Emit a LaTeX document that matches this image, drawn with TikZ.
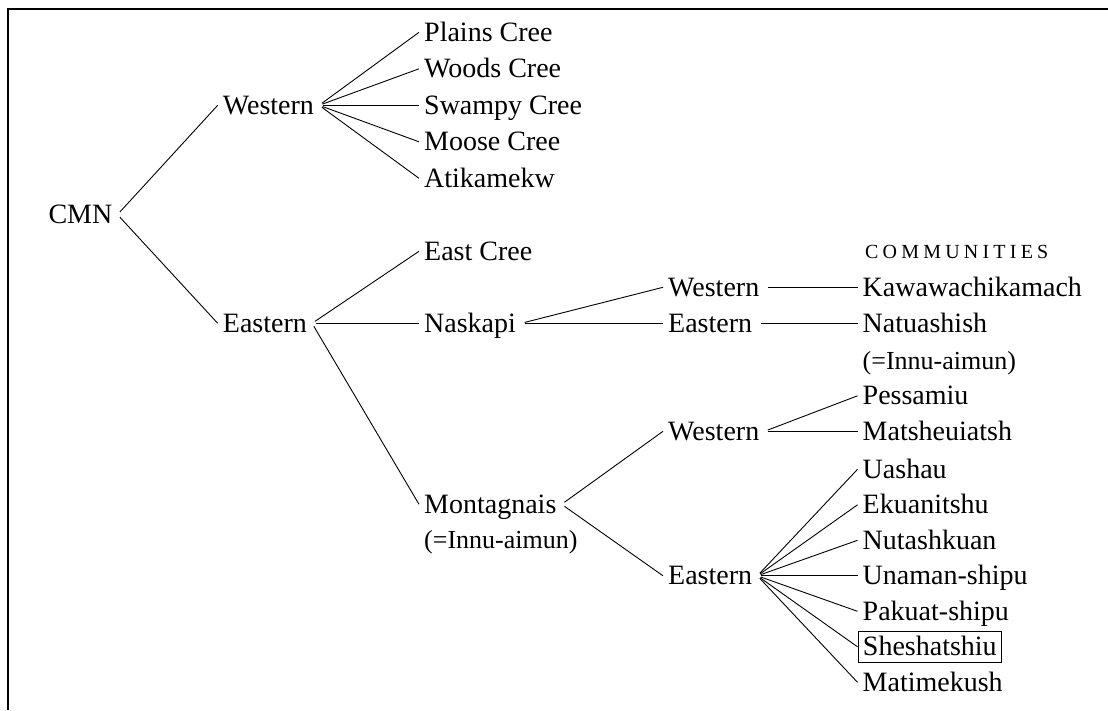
\documentclass[tikz,border=0pt]{standalone}
\usepackage{fontspec}
\setmainfont{Liberation Serif}
\newcommand\ls{\kern4.2pt}
\begin{document}
\begin{tikzpicture}[x=1pt,y=-1pt,
  lbl/.style={anchor=base west, inner xsep=5pt, inner ysep=1.5pt, text height=22.4pt, text depth=5pt, font=\fontsize{28}{30}\selectfont},
  sub/.style={anchor=base west, inner xsep=5pt, inner ysep=1.5pt, font=\fontsize{26}{28}\selectfont},
  br/.style={line width=0.9pt, shorten <=3.5pt}]
\useasboundingbox (0,0) rectangle (1108,710);
\draw[line width=1.8pt] (8.2,710) -- (8.2,9) -- (1108,9);
% level 0/1
\node[lbl] (cmn) at (43.3,223.3) {CMN};
\node[lbl] (w) at (217.7,114) {Western};
\node[lbl] (e) at (217.7,332) {Eastern};
% western leaves
\node[lbl] (plains) at (419,41) {Plains Cree};
\node[lbl] (woods) at (419,77.5) {Woods Cree};
\node[lbl] (swampy) at (419,114) {Swampy Cree};
\node[lbl] (moose) at (419,150.5) {Moose Cree};
\node[lbl] (atik) at (419,187) {Atikamekw};
% eastern
\node[lbl] (eastcree) at (419,260) {East Cree};
\node[lbl] (naskapi) at (419,332) {Naskapi};
\node[lbl] (mont) at (419,513) {Montagnais};
\node[sub] (innua) at (419,548) {(=Innu-aimun)};
% naskapi
\node[lbl] (nw) at (663,296) {Western};
\node[lbl] (ne) at (663,332) {Eastern};
\node[anchor=base west, inner sep=0pt, font=\fontsize{20}{22}\selectfont] (comm) at (865,258) {C\ls O\ls M\ls M\ls U\ls N\ls I\ls T\ls I\ls E\ls S};
\node[lbl] (kawa) at (857.5,296) {Kawawachikamach};
\node[lbl] (natu) at (857.5,332) {Natuashish};
\node[sub] (innub) at (857.5,369) {(=Innu-aimun)};
% montagnais
\node[lbl] (mw) at (663,440) {Western};
\node[lbl] (me) at (663,584.5) {Eastern};
\node[lbl] (pess) at (857.5,404.5) {Pessamiu};
\node[lbl] (mats) at (857.5,440) {Matsheuiatsh};
\node[lbl] (uash) at (857.5,478) {Uashau};
\node[lbl] (ekua) at (857.5,513.5) {Ekuanitshu};
\node[lbl] (nuta) at (857.5,549) {Nutashkuan};
\node[lbl] (unam) at (857.5,584.5) {Unaman-shipu};
\node[lbl] (paku) at (857.5,620) {Pakuat-shipu};
\node[lbl, draw, line width=0.9pt] (shes) at (857.5,655.5) {Sheshatshiu};
\node[lbl] (mati) at (857.5,691) {Matimekush};
% branches
\foreach \a/\b in {cmn/w, cmn/e, w/plains, w/woods, w/swampy, w/moose, w/atik,
  e/eastcree, e/naskapi, e/mont, naskapi/nw, naskapi/ne, nw/kawa, ne/natu,
  mont/mw, mont/me, mw/pess, mw/mats,
  me/uash, me/ekua, me/nuta, me/unam, me/paku, me/shes, me/mati}
  \draw[br] (\a.east) -- (\b.west);
\end{tikzpicture}
\end{document}
